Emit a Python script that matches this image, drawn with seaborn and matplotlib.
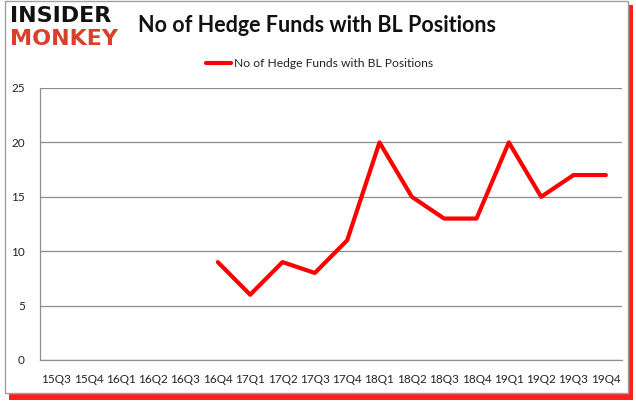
import matplotlib.pyplot as plt
import matplotlib.patches as patches
import pandas as pd
import numpy as np
import seaborn as sns

quarters = ['15Q3', '15Q4', '16Q1', '16Q2', '16Q3', '16Q4', '17Q1', '17Q2', '17Q3',
            '17Q4', '18Q1', '18Q2', '18Q3', '18Q4', '19Q1', '19Q2', '19Q3', '19Q4']
funds = [np.nan, np.nan, np.nan, np.nan, np.nan, 9, 6, 9, 8,
         11, 20, 15, 13, 13, 20, 15, 17, 17]
y_ticks = [0, 5, 10, 15, 20, 25]

df = pd.DataFrame({'quarter': quarters, 'funds': funds})
df['pos'] = np.arange(len(quarters))

sns.set_style('white')
plt.rcParams['font.family'] = ['Lato', 'DejaVu Sans']

fig = plt.figure(figsize=(6.36, 4.05), dpi=100)

# frame with red shadow
fig.patches.append(patches.Rectangle((9 / 636, 5 / 405), 624 / 636, 395 / 405, transform=fig.transFigure,
                                     facecolor='#ff2020', edgecolor='none', zorder=0))
fig.patches.append(patches.Rectangle((5 / 636, 12 / 405), 623 / 636, 392 / 405, transform=fig.transFigure,
                                     facecolor='white', edgecolor='#a0a0a0', linewidth=1, zorder=1))

ax = fig.add_axes([40 / 636, 45 / 405, 582 / 636, 272 / 405])
ax.set_zorder(2)
ax.patch.set_alpha(0)

sns.lineplot(data=df.dropna(), x='pos', y='funds', color='#ff0000', linewidth=3,
             ax=ax, label='No of Hedge Funds with BL Positions')

ax.set_xlim(-0.5, len(quarters) - 0.5)
ax.set_ylim(0, 25)
ax.set_yticks(y_ticks)
ax.set_yticklabels([str(v) for v in y_ticks], fontsize=8.5, color='#222222')
ax.set_xticks(df['pos'])
ax.set_xticklabels(quarters, fontsize=8.5, color='#222222')
ax.set_xticks(np.arange(-0.5, len(quarters)), minor=True)
ax.tick_params(axis='x', which='major', length=0, pad=10)
ax.tick_params(axis='x', which='minor', length=5, color='#909090', direction='out')
ax.tick_params(axis='y', length=5, color='#909090', direction='out', pad=6)
ax.grid(axis='y', color='#8c8c8c', linewidth=0.9)
ax.set_axisbelow(True)
for s in ['top', 'right']:
    ax.spines[s].set_visible(False)
for s in ['left', 'bottom']:
    ax.spines[s].set_color('#909090')
    ax.spines[s].set_linewidth(0.9)
ax.set_xlabel('')
ax.set_ylabel('')

leg = ax.legend(loc='lower center', bbox_to_anchor=(0.48, 1.03), frameon=False, fontsize=8.7,
                handlelength=2.1, handletextpad=0.2)
for t in leg.get_texts():
    t.set_color('#222222')

fig.text(317 / 636, 1 - 25 / 405, 'No of Hedge Funds with BL Positions', ha='center', va='center',
         fontsize=15.5, fontweight='bold', color='#111111')

# logo
fig.text(10 / 636, 1 - 16 / 405, 'INSIDER', ha='left', va='center', fontsize=16,
         fontweight='heavy', color='#111111', family=['DejaVu Sans'])
fig.text(10 / 636, 1 - 39 / 405, 'MONKEY', ha='left', va='center', fontsize=16,
         fontweight='heavy', color='#d8402a', family=['DejaVu Sans'])

fig.savefig('out.png', dpi=100)
